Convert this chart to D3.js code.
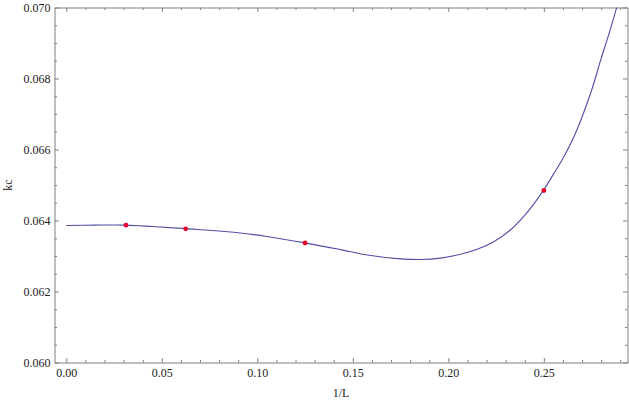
<!DOCTYPE html>
<html>
<head>
<meta charset="utf-8">
<title>kc vs 1/L</title>
<script src="https://cdn.jsdelivr.net/npm/d3@7"></script>
<style>
    body{
        margin:0;
        background:#fff;
        font-family:"Liberation Serif","DejaVu Serif",serif;
    }
    .frame path.domain{ stroke:#808080; }
    .frame line{ stroke:#808080; }
    .frame text{ font-size:12px; fill:#222; font-family:"Liberation Serif",serif; }
    .lbl{ font-size:12px; fill:#222; }
</style>
</head>
<body>
<div id="chart"></div>
<script>
// fitted curve
var curveX = [0.0, 0.015, 0.031, 0.045, 0.0624, 0.0877, 0.105, 0.125, 0.1436, 0.1575, 0.175, 0.1854, 0.196, 0.2064, 0.2151, 0.2238, 0.2326, 0.2413, 0.2498, 0.2552, 0.2596, 0.2657, 0.2744, 0.2797, 0.2849, 0.2884, 0.2905]
var curveY = [0.06386, 0.06387, 0.06387, 0.06383, 0.06377, 0.06367, 0.06355, 0.06337, 0.06318, 0.06303, 0.06292, 0.06290, 0.06294, 0.06305, 0.06319, 0.06340, 0.06374, 0.06423, 0.06485, 0.06532, 0.06571, 0.06635, 0.06757, 0.06851, 0.06940, 0.07005, 0.07045]

// computed points (L = 32, 16, 8, 4)
var pointX = [0.03125, 0.0625, 0.125, 0.25]
var pointY = [0.063868, 0.063766, 0.063366, 0.064845]

var xTicks = [0.00, 0.05, 0.10, 0.15, 0.20, 0.25]
var yTicks = [0.060, 0.062, 0.064, 0.066, 0.068, 0.070]

var width = 629, height = 403
var pLeft = 54.5, pRight = 627.5, pTop = 7.5, pBottom = 362.5

var svg = d3.select("#chart").append("svg")
    .attr("width", width).attr("height", height)

var x = d3.scaleLinear().domain([-0.00618, 0.2938]).range([pLeft, pRight])
var y = d3.scaleLinear().domain([0.060, 0.070]).range([pBottom, pTop])

var xMinor = d3.range(0, 0.2935, 0.01).filter(function(v){ return Math.abs(v/0.05 - Math.round(v/0.05)) > 1e-6 })
var yMinor = d3.range(0.060, 0.07001, 0.0005).filter(function(v){ return Math.abs(v/0.002 - Math.round(v/0.002)) > 1e-6 })

// frame: ticks point inward on all four sides
function frameAxis(axisFn, scale, pos, ticks, minor, fmt, labels){
    var g = svg.append("g").attr("class", "frame").attr("transform", pos)
    g.call(axisFn(scale).tickValues(minor).tickSize(-2.5).tickFormat(""))
    g.select(".domain").remove()
    var g2 = svg.append("g").attr("class", "frame").attr("transform", pos)
    g2.call(axisFn(scale).tickValues(ticks).tickSizeInner(-4.5).tickSizeOuter(0)
        .tickPadding(axisFn === d3.axisBottom ? 6 : 4)
        .tickFormat(labels ? d3.format(fmt) : ""))
    return g2
}
frameAxis(d3.axisBottom, x, "translate(0," + pBottom + ")", xTicks, xMinor, ".2f", true)
frameAxis(d3.axisTop, x, "translate(0," + pTop + ")", xTicks, xMinor, ".2f", false)
frameAxis(d3.axisLeft, y, "translate(" + pLeft + ",0)", yTicks, yMinor, ".3f", true)
frameAxis(d3.axisRight, y, "translate(" + pRight + ",0)", yTicks, yMinor, ".3f", false)

svg.selectAll(".frame text").attr("fill", "#222").style("font-family", "'Liberation Serif', serif")

svg.append("defs").append("clipPath").attr("id", "plotclip")
    .append("rect").attr("x", pLeft).attr("y", pTop).attr("width", pRight - pLeft).attr("height", pBottom - pTop)

var line = d3.line()
    .x(function(d){ return x(d[0]) })
    .y(function(d){ return y(d[1]) })
    .curve(d3.curveCatmullRom.alpha(0.5))

svg.append("path")
    .datum(d3.zip(curveX, curveY))
    .attr("clip-path", "url(#plotclip)")
    .attr("fill", "none")
    .attr("stroke", "#4f4fa6")
    .attr("stroke-width", 1.1)
    .attr("d", line)

svg.selectAll(".pt")
    .data(d3.zip(pointX, pointY))
    .enter().append("circle")
    .attr("class", "pt")
    .attr("cx", function(d){ return x(d[0]) })
    .attr("cy", function(d){ return y(d[1]) })
    .attr("r", 2.4)
    .attr("fill", "#e8002a")

svg.append("text").attr("class", "lbl")
    .attr("x", (pLeft + pRight) / 2).attr("y", 397)
    .attr("text-anchor", "middle")
    .text("1/L")

svg.append("text").attr("class", "lbl")
    .attr("transform", "translate(12," + (pTop + pBottom) / 2 + ") rotate(-90)")
    .attr("text-anchor", "middle")
    .text("kc")
</script>
</body>
</html>
